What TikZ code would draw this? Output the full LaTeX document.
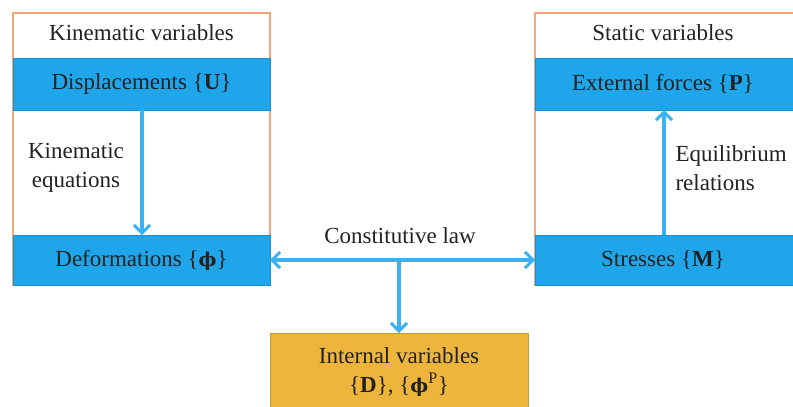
\documentclass[tikz,border=0pt]{standalone}
\usepackage{fontspec}
\setmainfont{Liberation Serif}
\newfontfamily\phifont{DejaVu Serif}
\usetikzlibrary{arrows.meta}
\definecolor{bluefill}{HTML}{1FA5EA}
\definecolor{blueedge}{HTML}{1A8FD0}
\definecolor{arrowblue}{HTML}{3AB2F2}
\definecolor{orangefill}{HTML}{EDB53C}
\definecolor{orangeedge}{HTML}{C89A30}
\definecolor{frameline}{HTML}{F0A878}
\definecolor{textcol}{HTML}{222222}
\newcommand{\myphi}{{\phifont\bfseries\fontsize{19}{19}\selectfont ϕ}}
\tikzset{
  x=1pt, y=-1pt,
  frame/.style={draw=frameline, line width=1.1pt, fill=white},
  band/.style={draw=blueedge, line width=1pt, fill=bluefill},
  lbl/.style={font=\fontsize{23}{29}\selectfont, text=textcol, align=center},
  conn/.style={draw=arrowblue, line width=3.4pt, -{Straight Barb[length=8pt,width=16pt,line width=3pt]}},
}
\begin{document}
\begin{tikzpicture}
\useasboundingbox (0,0) rectangle (793,407);
% left frame
\draw[frame] (13,13) rectangle (270,285);
\draw[band] (13,58) rectangle (270,110);
\draw[band] (13,235) rectangle (270,285);
\node[lbl] (kv) at (141.5,33) {Kinematic variables};
\node[lbl] (disp) at (141.5,84) {Displacements \{\textbf{U}\}};
\node[lbl] (def) at (141.5,260) {Deformations \{\myphi\}};
% right frame
\draw[frame] (535,13) rectangle (800,285);
\draw[band] (535,58) rectangle (800,110);
\draw[band] (535,235) rectangle (800,285);
\node[lbl] (sv) at (663,33) {Static variables};
\node[lbl] (ext) at (663,84) {External forces \{\textbf{P}\}};
\node[lbl] (str) at (663,260) {Stresses \{\textbf{M}\}};
% internal variables
\draw[draw=orangeedge, line width=1pt, fill=orangefill] (270,333) rectangle (528,412);
\node[lbl] (iv) at (399,372) {Internal variables\\ \{\textbf{D}\}, \{\myphi\textsuperscript{P}\}};
% coordinates
\coordinate (dispB) at (142,110);
\coordinate (defT) at (142,235);
\coordinate (extB) at (664,110);
\coordinate (strT) at (664,235);
\coordinate (defR) at (270,260);
\coordinate (strL) at (535,260);
\coordinate (mid) at (399,260);
\coordinate (ivT) at (399,333);
% arrows
\draw[conn] (dispB) -- (defT);
\draw[conn] (strT) -- (extB);
\draw[conn] (mid) -- (defR);
\draw[conn] (mid) -- (strL);
\draw[conn] (mid) -- (ivT);
% labels
\node[lbl, anchor=center] (ke) at (76,168) {Kinematic\\equations};
\node[lbl, anchor=west, align=left] (er) at (672,168) {Equilibrium\\relations};
\node[lbl] (cl) at (400,236) {Constitutive law};
\end{tikzpicture}
\end{document}
